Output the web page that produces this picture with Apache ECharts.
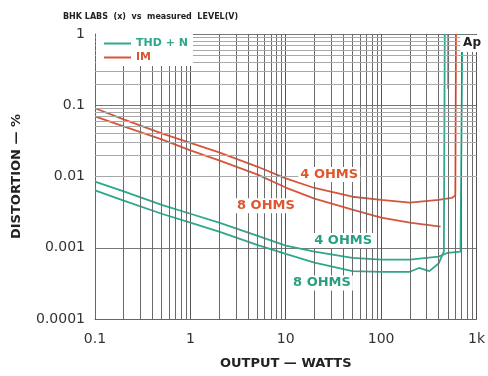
<!DOCTYPE html>
<html>
<head>
<meta charset="utf-8">
<script src="https://cdn.jsdelivr.net/npm/echarts@6/dist/echarts.min.js"></script>
<style>
  html, body { margin: 0; background: #fff; }
  #chart { width: 488px; height: 376px; }
</style>
</head>
<body>
<div id="chart"></div>
<script>
// IM distortion, 4 ohms (watts / percent)
const im4Watts = [0.1, 0.2, 0.5, 1, 2, 5, 10, 20, 50, 100, 200, 400, 550, 600, 610];
const im4Pct = [0.0907, 0.0635, 0.0403, 0.0296, 0.0218, 0.0138, 0.0094, 0.0069, 0.0052, 0.0047, 0.0043, 0.0047, 0.0050, 0.0054, 1];

// IM distortion, 8 ohms ('-' = gap before the clipping trace)
const im8Watts = [0.1, 0.2, 0.5, 1, 2, 5, 10, 20, 50, 100, 200, 420, 505, 505, 505];
const im8Pct = [0.070, 0.0506, 0.0332, 0.0232, 0.0168, 0.0107, 0.0070, 0.0049, 0.00343, 0.00265, 0.00225, 0.00198, '-', 0.17, 1];

// THD+N, 4 ohms
const thd4Watts = [0.1, 0.2, 0.5, 1, 2, 5, 10, 20, 50, 100, 200, 400, 500, 680, 710];
const thd4Pct = [0.0085, 0.0062, 0.0040, 0.0030, 0.00225, 0.00148, 0.00107, 0.00088, 0.00072, 0.00068, 0.00068, 0.00075, 0.00085, 0.00088, 1];

// THD+N, 8 ohms
const thd8Watts = [0.1, 0.2, 0.5, 1, 2, 5, 10, 20, 50, 100, 200, 250, 320, 400, 455, 465];
const thd8Pct = [0.0064, 0.0046, 0.0030, 0.00225, 0.00168, 0.0011, 0.00082, 0.00062, 0.00047, 0.00046, 0.00046, 0.00052, 0.00047, 0.0006, 0.00088, 1];

const xTickLabels = { 0.1: '0.1', 1: '1', 10: '10', 100: '100', 1000: '1k' };
const yTickLabels = { 1: '1', 0.1: '0.1', 0.01: '0.01', 0.001: '0.001', 0.0001: '0.0001' };

const red = '#d9553a';
const green = '#2ea88c';

// chart-paper minor grid (2..9 in each decade)
const steps = [2, 3, 4, 5, 6, 7, 8, 9];
const xDecades = [0.1, 1, 10, 100];
const yDecades = [0.0001, 0.001, 0.01, 0.1];
const gridX = [];
xDecades.forEach(d => steps.forEach(s => gridX.push(+(d * s).toPrecision(3))));
const gridY = [];
yDecades.forEach(d => steps.forEach(s => gridY.push(+(d * s).toPrecision(3))));

const zip = (xs, ys) => xs.map((x, i) => [x, ys[i]]);

const chart = echarts.init(document.getElementById('chart'));

const labelFont = { fontFamily: 'DejaVu Sans', fontWeight: 'bold', fontSize: 13 };

const option = {
  animation: false,
  backgroundColor: '#fff',
  title: {
    text: 'BHK LABS  (x)  vs  measured  LEVEL(V)',
    left: 58, top: 8,
    textStyle: { fontFamily: 'DejaVu Sans', fontWeight: 'bold', fontSize: 8, color: '#222' }
  },
  legend: {
    left: 96, top: 34, z: 50,
    orient: 'vertical',
    backgroundColor: '#fff',
    padding: [4, 5, 3, 8],
    itemGap: 3,
    itemWidth: 27, itemHeight: 2,
    icon: 'rect',
    data: [
      { name: 'THD + N', textStyle: { color: green } },
      { name: 'IM', textStyle: { color: red } }
    ],
    textStyle: { fontFamily: 'DejaVu Sans', fontWeight: 'bold', fontSize: 11 }
  },
  grid: { left: 95, right: 6, top: 34, bottom: 57 },
  xAxis: {
    type: 'log', min: 0.1, max: 1000, logBase: 10,
    name: 'OUTPUT — WATTS', nameLocation: 'middle', nameGap: 38,
    nameTextStyle: { fontFamily: 'DejaVu Sans', fontWeight: 'bold', fontSize: 13, color: '#222' },
    axisLine: { lineStyle: { color: '#666' } },
    axisTick: { show: false },
    axisLabel: {
      margin: 13, color: '#333', fontFamily: 'DejaVu Sans', fontSize: 14,
      formatter: v => xTickLabels[+v.toPrecision(3)] || ''
    },
    splitLine: { show: true, lineStyle: { color: '#555', width: 1 } }
  },
  yAxis: {
    type: 'log', min: 0.0001, max: 1, logBase: 10,
    name: 'DISTORTION — %', nameLocation: 'middle', nameGap: 72, nameRotate: 90,
    nameTextStyle: { fontFamily: 'DejaVu Sans', fontWeight: 'bold', fontSize: 13, color: '#222' },
    axisLine: { lineStyle: { color: '#666' } },
    axisTick: { show: false },
    axisLabel: {
      margin: 10, color: '#333', fontFamily: 'DejaVu Sans', fontSize: 14,
      formatter: v => yTickLabels[+v.toPrecision(3)] || ''
    },
    splitLine: { show: true, lineStyle: { color: '#777', width: 1 } }
  },
  graphic: [
    {
      type: 'group', right: 7, top: 35, z: 50,
      children: [
        { type: 'rect', z: 50, shape: { x: 0, y: 0, width: 19, height: 17 }, style: { fill: '#fff' } },
        { type: 'text', z: 51, x: 3, y: 2, style: { text: 'Ap', fill: '#222', font: 'bold 12px "DejaVu Sans"' } }
      ]
    }
  ],
  series: [
    {
      name: 'grid', type: 'line', data: [], silent: true, z: 1,
      markLine: {
        silent: true, symbol: ['none', 'none'], label: { show: false }, animation: false,
        data: gridX.map(v => ({ xAxis: v, lineStyle: { color: '#6a6a6a', width: 1, type: 'solid' } }))
          .concat(gridY.map(v => ({ yAxis: v, lineStyle: { color: '#a8a8a8', width: 1, type: 'solid' } })))
      }
    },
    {
      name: 'IM', type: 'line', showSymbol: false, data: zip(im4Watts, im4Pct),
      lineStyle: { color: red, width: 1.8 }, itemStyle: { color: red },
      markPoint: {
        symbol: 'rect', symbolSize: 1, itemStyle: { color: 'transparent' },
        label: { show: true, position: 'inside', formatter: '4 OHMS', color: '#e0552e', backgroundColor: '#fff', padding: [1, 2], ...labelFont },
        data: [{ coord: [28.6, 0.0107] }]
      }
    },
    {
      name: 'IM', type: 'line', showSymbol: false, data: zip(im8Watts, im8Pct),
      lineStyle: { color: red, width: 1.8 }, itemStyle: { color: red },
      markPoint: {
        symbol: 'rect', symbolSize: 1, itemStyle: { color: 'transparent' },
        label: { show: true, position: 'inside', formatter: '8 OHMS', color: '#e0552e', backgroundColor: '#fff', padding: [1, 2], ...labelFont },
        data: [{ coord: [6.2, 0.0039] }]
      }
    },
    {
      name: 'THD + N', type: 'line', showSymbol: false, data: zip(thd4Watts, thd4Pct),
      lineStyle: { color: green, width: 1.8 }, itemStyle: { color: green },
      markPoint: {
        symbol: 'rect', symbolSize: 1, itemStyle: { color: 'transparent' },
        label: { show: true, position: 'inside', formatter: '4 OHMS', color: '#2a9e80', backgroundColor: '#fff', padding: [1, 2], ...labelFont },
        data: [{ coord: [40, 0.00126] }]
      }
    },
    {
      name: 'THD + N', type: 'line', showSymbol: false, data: zip(thd8Watts, thd8Pct),
      lineStyle: { color: green, width: 1.8 }, itemStyle: { color: green },
      markPoint: {
        symbol: 'rect', symbolSize: 1, itemStyle: { color: 'transparent' },
        label: { show: true, position: 'inside', formatter: '8 OHMS', color: '#2a9e80', backgroundColor: '#fff', padding: [1, 2], ...labelFont },
        data: [{ coord: [24, 0.00032] }]
      }
    }
  ]
};

chart.setOption(option);
</script>
</body>
</html>
